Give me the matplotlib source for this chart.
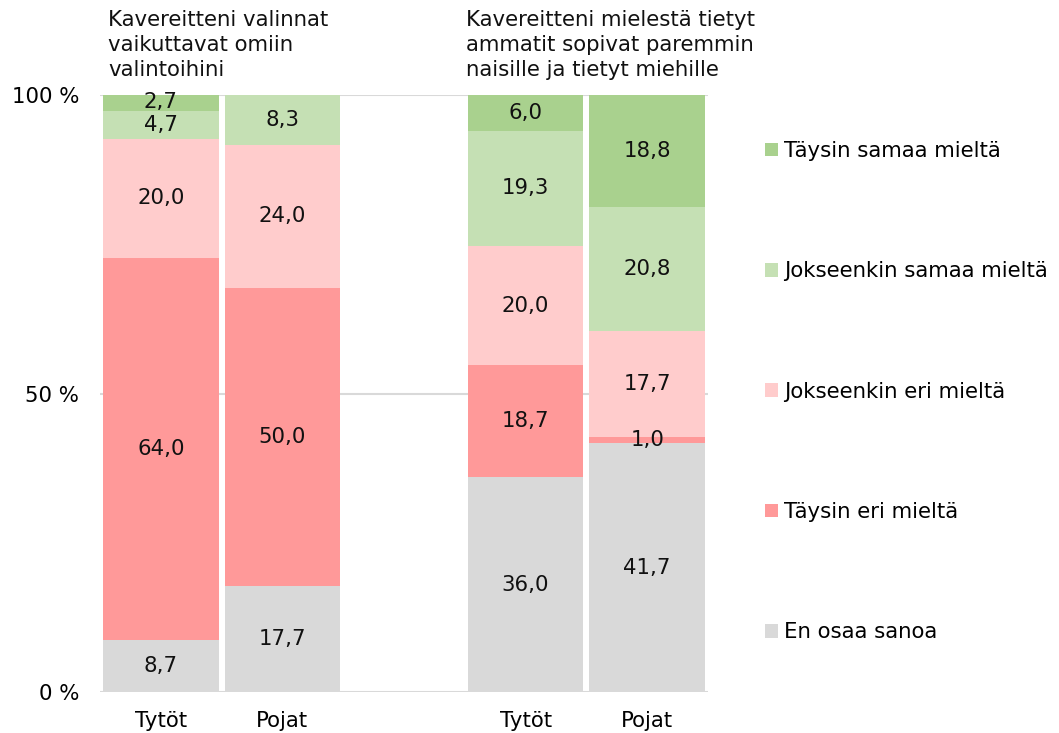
import matplotlib
matplotlib.use("Agg")
import matplotlib.pyplot as plt
from matplotlib.patches import Patch
import numpy as np

plt.rcParams['font.family'] = ['DejaVu Sans']

categories = ["Tytöt", "Pojat", "Tytöt", "Pojat"]
positions = [0, 1, 3, 4]
series = ["En osaa sanoa", "Täysin eri mieltä", "Jokseenkin eri mieltä",
          "Jokseenkin samaa mieltä", "Täysin samaa mieltä"]
en_osaa = [8.7, 17.7, 36.0, 41.7]
taysin_eri = [64.0, 50.0, 18.7, 1.0]
jokseenkin_eri = [20.0, 24.0, 20.0, 17.7]
jokseenkin_samaa = [4.7, 8.3, 19.3, 20.8]
taysin_samaa = [2.7, 0.0, 6.0, 18.8]
colors = ["#D9D9D9", "#FF9999", "#FFCCCC", "#C5E0B4", "#A9D18E"]
titles = ["Kavereitteni valinnat\nvaikuttavat omiin\nvalintoihini",
          "Kavereitteni mielestä tietyt\nammatit sopivat paremmin\nnaisille ja tietyt miehille"]

data = [en_osaa, taysin_eri, jokseenkin_eri, jokseenkin_samaa, taysin_samaa]

FS = 15.3
fig = plt.figure(figsize=(10.59, 7.33), dpi=100)
ax = fig.add_axes([100/1059, 1-692/733, 608/1059, 597/733])

bottom = np.zeros(4)
for vals, col, name in zip(data, colors, series):
    vals = np.array(vals)
    ax.bar(positions, vals, bottom=bottom, width=0.95, color=col, label=name, zorder=3)
    for p, v, b in zip(positions, vals, bottom):
        if v > 0:
            ax.text(p, b + v/2, f"{v:.1f}".replace(".", ","), ha="center", va="center",
                    fontsize=FS, color="#111111", zorder=4)
    bottom += vals

ax.set_xlim(-0.5, 4.5)
ax.set_ylim(0, 100)
ax.set_yticks([0, 50, 100])
ax.set_yticklabels(["0 %", "50 %", "100 %"], fontsize=FS)
ax.set_xticks(positions)
ax.set_xticklabels(categories, fontsize=FS)
ax.tick_params(axis='y', length=0, pad=15)
ax.tick_params(axis='x', length=0, pad=14)
for s in ax.spines.values():
    s.set_visible(False)
for yv in [0, 50, 100]:
    ax.axhline(yv, color="#D9D9D9", lw=1.5, zorder=1)

fig.text(108/1059, 1-10/733, titles[0], ha="left", va="top", fontsize=FS, color="#111111", linespacing=1.3)
fig.text(466/1059, 1-10/733, titles[1], ha="left", va="top", fontsize=FS, color="#111111", linespacing=1.3)

handles = [Patch(facecolor=c, edgecolor='none') for c in colors][::-1]
labels = series[::-1]
leg = fig.legend(handles, labels, loc="upper left", bbox_to_anchor=(746/1059, 1-122/733),
                 frameon=False, fontsize=FS, handlelength=0.6, handleheight=0.6,
                 handletextpad=0.3, labelspacing=4.72)

fig.savefig("out.png", dpi=100)
